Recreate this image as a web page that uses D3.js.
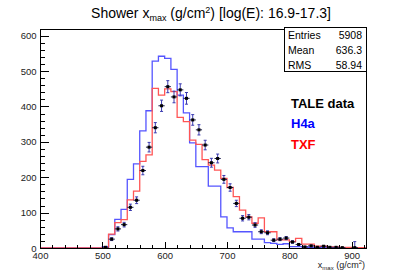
<!DOCTYPE html>
<html>
<head>
<meta charset="utf-8">
<script src="https://cdn.jsdelivr.net/npm/d3@7"></script>
<style>
  body { margin: 0; background: #fff; }
  text { font-family: "Liberation Sans", Arial, sans-serif; }
</style>
</head>
<body>
<div id="main"></div>
<script>
// bin lower edges, 10 g/cm2 wide
const binLow = [400, 410, 420, 430, 440, 450, 460, 470, 480, 490,
                500, 510, 520, 530, 540, 550, 560, 570, 580, 590,
                600, 610, 620, 630, 640, 650, 660, 670, 680, 690,
                700, 710, 720, 730, 740, 750, 760, 770, 780, 790,
                800, 810, 820, 830, 840, 850, 860, 870, 880, 890,
                900, 910];
// H4a prediction
const h4a = [0, 0, 0, 0, 0, 0, 0, 0, 0, 0,
             4, 38, 81, 109, 194, 238, 331, 388, 528, 542,
             536, 505, 432, 382, 297, 230, 230, 175, 175, 88,
             57, 46, 46, 46, 25, 25, 15, 13, 10, 12,
             4, 4, 3, 2, 2, 1.5, 1, 1, 0.5, 0.5,
             0.3, 0.2];
// TXF prediction
const txf = [0, 0, 0, 0, 0, 0, 0, 0, 0, 0,
             0, 39, 72, 80, 136, 161, 245, 263, 451, 432,
             450, 442, 369, 357, 305, 293, 250, 234, 220, 197,
             171, 145, 107, 88, 70, 85, 46, 46, 23, 23,
             18, 27, 11, 11, 5, 5, 3, 3, 2, 2,
             1, 1];
// TALE data and errors
const tale = [0, 0, 0, 0, 0, 0, 0, 0, 0, 0,
              2, 25, 54, 66, 115, 135, 219, 285, 340, 402,
              456, 427, 447, 423, 362, 334, 291, 241, 253, 194,
              171, 126, 84, 87, 65, 46, 43, 22, 25, 28,
              17, 10, 3, 6, 2, 5, 2, 2, 1, 0,
              1, 0];
const taleErr = [0, 0, 0, 0, 0, 0, 0, 0, 0, 0,
                 1.5, 4, 6, 6.5, 9, 9.5, 12, 13.5, 14.5, 16,
                 17, 16.5, 17, 16.5, 15, 14.5, 13.5, 12.5, 12.5, 11,
                 10.5, 9, 7.5, 7.5, 6.5, 5.5, 5.5, 4, 4.2, 4.5,
                 3.5, 2.7, 1.5, 2, 1.2, 1.8, 1.2, 1.2, 0.8, 0,
                 17, 0];
const xTicks = [400, 500, 600, 700, 800, 900];
const yTicks = [0, 100, 200, 300, 400, 500, 600];
const statNames = ["Entries", "Mean", "RMS"];
const statValues = ["5908", "636.3", "58.94"];
const legendNames = ["TALE data", "H4a", "TXF"];
const legendColors = ["#000000", "#0000ff", "#ff0000"];

const W = 407, H = 277;
const L = 40, R = 366, T = 29, B = 248;
const BIN = 10;

const svg = d3.select("#main").append("svg")
    .attr("width", W).attr("height", H);

const x = d3.scaleLinear().domain([400, 923]).range([L, R]);
const y = d3.scaleLinear().domain([0, 619]).range([B, T]);

svg.append("clipPath").attr("id", "clip")
  .append("rect").attr("x", L).attr("y", T).attr("width", R - L).attr("height", B - T);

// title
const title = svg.append("text")
    .attr("x", 211).attr("y", 18)
    .attr("text-anchor", "middle")
    .attr("font-size", 14).attr("fill", "#000");
title.append("tspan").text("Shower x");
title.append("tspan").attr("font-size", 9).attr("dy", 3).text("max");
title.append("tspan").attr("dy", -3).text(" (g/cm");
title.append("tspan").attr("font-size", 9).attr("dy", -5).text("2");
title.append("tspan").attr("dy", 5).text(") [log(E): 16.9-17.3]");

// histograms
function stepPoints(vals) {
    let pts = binLow.map((b, i) => [b, vals[i]]);
    pts.push([binLow[binLow.length - 1] + BIN, vals[vals.length - 1]]);
    pts.push([binLow[binLow.length - 1] + BIN, 0]);
    pts.push([923, 0]);
    return pts;
}
const stepLine = d3.line()
    .x(d => x(d[0])).y(d => y(d[1]))
    .curve(d3.curveStepAfter);

const plot = svg.append("g").attr("clip-path", "url(#clip)");
plot.append("path")
    .attr("d", stepLine(stepPoints(h4a)))
    .attr("fill", "none").attr("stroke", "#5555ff").attr("stroke-width", 1.3);
plot.append("path")
    .attr("d", stepLine(stepPoints(txf)))
    .attr("fill", "none").attr("stroke", "#ff5555").attr("stroke-width", 1.3);

// data points
const pts = binLow.map((b, i) => ({c: b + BIN / 2, v: tale[i], e: taleErr[i]}))
    .filter(d => d.v > 0 || d.e > 0);
const pg = plot.append("g").selectAll("g").data(pts).enter().append("g");
pg.append("line")
    .attr("x1", d => x(d.c)).attr("x2", d => x(d.c))
    .attr("y1", d => y(Math.max(0, d.v - d.e))).attr("y2", d => y(d.v + d.e))
    .attr("stroke", "#3a3ab0").attr("stroke-width", 1);
pg.append("line")
    .attr("x1", d => x(d.c) - 1.5).attr("x2", d => x(d.c) + 1.5)
    .attr("y1", d => y(d.v + d.e)).attr("y2", d => y(d.v + d.e))
    .attr("stroke", "#3a3ab0").attr("stroke-width", 1);
pg.append("line")
    .attr("x1", d => x(d.c) - 1.5).attr("x2", d => x(d.c) + 1.5)
    .attr("y1", d => y(Math.max(0, d.v - d.e))).attr("y2", d => y(Math.max(0, d.v - d.e)))
    .attr("stroke", "#3a3ab0").attr("stroke-width", 1);
pg.append("line")
    .attr("x1", d => x(d.c - BIN / 2)).attr("x2", d => x(d.c + BIN / 2))
    .attr("y1", d => y(d.v)).attr("y2", d => y(d.v))
    .attr("stroke", "#1a1a50").attr("stroke-width", 1);
pg.filter(d => d.v > 0).append("rect")
    .attr("x", d => x(d.c) - 1.5).attr("y", d => y(d.v) - 1.5)
    .attr("width", 3).attr("height", 3).attr("fill", "#000");

// frame
svg.append("rect")
    .attr("x", L).attr("y", T).attr("width", R - L).attr("height", B - T)
    .attr("fill", "none").attr("stroke", "#000").attr("stroke-width", 1)
    .attr("shape-rendering", "crispEdges");

// axes
const xAxis = d3.axisBottom(x).tickValues(xTicks).tickSize(-6.5).tickFormat(d3.format("d"));
const gx = svg.append("g").attr("transform", `translate(0,${B})`).call(xAxis);
gx.select(".domain").remove();
gx.selectAll(".tick line").attr("shape-rendering", "crispEdges");
gx.selectAll("text").attr("font-size", 9.5).attr("fill", "#222").attr("dy", 0).attr("y", 10.5);
const xMinor = d3.axisBottom(x).tickValues(d3.range(420, 923, 20).filter(v => v % 100 != 0))
    .tickSize(-3.3).tickFormat("");
const gxm = svg.append("g").attr("transform", `translate(0,${B})`).call(xMinor);
gxm.select(".domain").remove();
gxm.selectAll(".tick line").attr("shape-rendering", "crispEdges");

const yAxis = d3.axisLeft(y).tickValues(yTicks).tickSize(-9).tickPadding(3).tickFormat(d3.format("d"));
const gy = svg.append("g").attr("transform", `translate(${L},0)`).call(yAxis);
gy.select(".domain").remove();
gy.selectAll(".tick line").attr("shape-rendering", "crispEdges");
gy.selectAll("text").attr("font-size", 9.5).attr("fill", "#222").attr("x", -3.5);
const yMinor = d3.axisLeft(y).tickValues(d3.range(20, 619, 20).filter(v => v % 100 != 0))
    .tickSize(-4.5).tickFormat("");
const gym = svg.append("g").attr("transform", `translate(${L},0)`).call(yMinor);
gym.select(".domain").remove();
gym.selectAll(".tick line").attr("shape-rendering", "crispEdges");

// x title
const xt = svg.append("text")
    .attr("x", 365).attr("y", 268)
    .attr("text-anchor", "end").attr("font-size", 9).attr("fill", "#222");
xt.append("tspan").text("x");
xt.append("tspan").attr("font-size", 6).attr("dy", 2).text("max");
xt.append("tspan").attr("dy", -2).text(" (g/cm");
xt.append("tspan").attr("font-size", 6).attr("dy", -4).text("2");
xt.append("tspan").attr("dy", 4).text(")");

// stats box
svg.append("rect")
    .attr("x", 284).attr("y", 27).attr("width", 82).attr("height", 44)
    .attr("fill", "#fff").attr("stroke", "#000").attr("stroke-width", 1)
    .attr("shape-rendering", "crispEdges");
statNames.forEach((n, i) => {
    svg.append("text").attr("x", 288).attr("y", 38.5 + i * 15)
        .attr("font-size", 10.5).attr("fill", "#000").text(n);
    svg.append("text").attr("x", 362).attr("y", 38.5 + i * 15)
        .attr("text-anchor", "end")
        .attr("font-size", 10.5).attr("fill", "#000").text(statValues[i]);
});

// legend
legendNames.forEach((n, i) => {
    svg.append("text").attr("x", 291).attr("y", 107.5 + i * 20.5)
        .attr("font-size", 13).attr("font-weight", "bold")
        .attr("fill", legendColors[i]).text(n);
});
</script>
</body>
</html>
